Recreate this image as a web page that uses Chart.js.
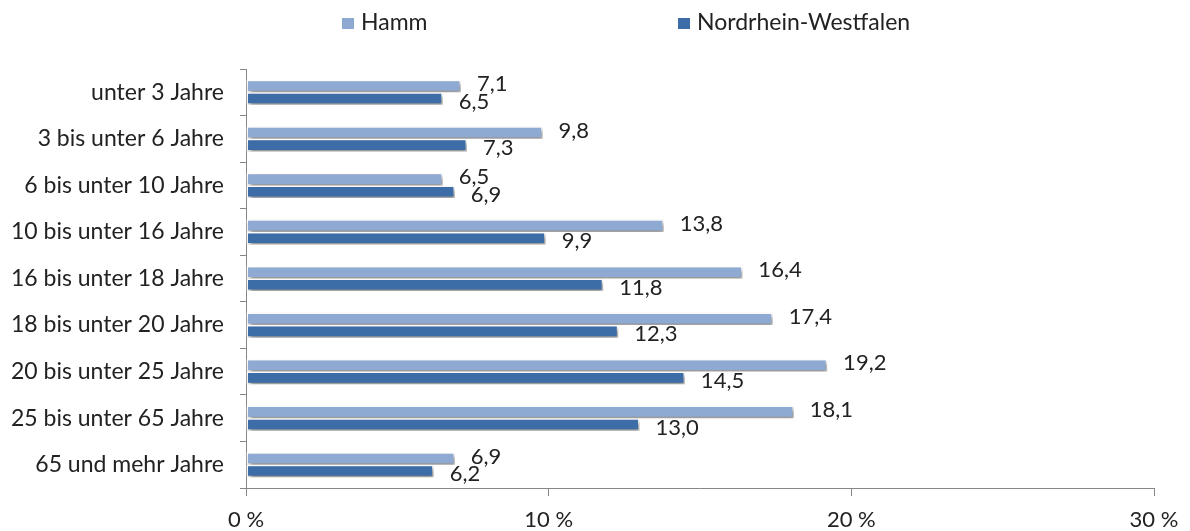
<!DOCTYPE html>
<html>
<head>
<meta charset="utf-8">
<script src="https://cdn.jsdelivr.net/npm/chart.js@4.4.0/dist/chart.umd.min.js"></script>
<style>
html,body{margin:0;padding:0;background:#fff;}
#wrap{width:1190px;height:531px;position:relative;}
</style>
</head>
<body>
<div id="wrap"><canvas id="c" width="1190" height="531"></canvas></div>
<script>
const categories = ["unter 3 Jahre","3 bis unter 6 Jahre","6 bis unter 10 Jahre","10 bis unter 16 Jahre","16 bis unter 18 Jahre","18 bis unter 20 Jahre","20 bis unter 25 Jahre","25 bis unter 65 Jahre","65 und mehr Jahre"];
const seriesNames = ["Hamm","Nordrhein-Westfalen"];
const hammValues = [7.1, 9.8, 6.5, 13.8, 16.4, 17.4, 19.2, 18.1, 6.9];
const nrwValues  = [6.5, 7.3, 6.9, 9.9, 11.8, 12.3, 14.5, 13.0, 6.2];
const xTicks = [0, 10, 20, 30];

const FONT = "Lato";
const colors = ["#8EA9D2", "#3D6DA7"];

const shadowPlugin = {
  id: 'shadow',
  beforeDatasetsDraw(chart) {
    const ctx = chart.ctx;
    ctx.save();
    ctx.shadowColor = 'rgba(0,0,0,0.45)';
    ctx.shadowBlur = 4;
    ctx.shadowOffsetX = 2;
    ctx.shadowOffsetY = 3;
  },
  afterDatasetsDraw(chart) {
    chart.ctx.restore();
  }
};

const labelPlugin = {
  id: 'valueLabels',
  afterDatasetsDraw(chart) {
    const ctx = chart.ctx;
    ctx.save();
    ctx.font = "22px " + FONT;
    ctx.fillStyle = "#222";
    ctx.textAlign = "left";
    ctx.textBaseline = "middle";
    chart.data.datasets.forEach((ds, i) => {
      const meta = chart.getDatasetMeta(i);
      meta.data.forEach((el, j) => {
        const txt = ds.data[j].toFixed(1).replace('.', ',');
        const dy = i === 0 ? -2 : 3;
        ctx.fillText(txt, el.x + 16, el.y + dy);
      });
    });
    ctx.restore();
  }
};

const legendPlugin = {
  id: 'customLegend',
  afterDraw(chart) {
    const ctx = chart.ctx;
    ctx.save();
    ctx.font = "23px " + FONT;
    ctx.textBaseline = "middle";
    const items = [{x: 342}, {x: 678}];
    items.forEach((it, i) => {
      ctx.fillStyle = colors[i];
      ctx.fillRect(it.x, 18, 12, 11);
      ctx.fillStyle = "#222";
      ctx.fillText(seriesNames[i], it.x + 19, 23);
    });
    ctx.restore();
  }
};

new Chart(document.getElementById('c'), {
  type: 'bar',
  data: {
    labels: categories,
    datasets: [
      { label: seriesNames[0], data: hammValues, backgroundColor: colors[0], borderColor: '#fff', borderWidth: 1.5, borderSkipped: false, categoryPercentage: 0.54, barPercentage: 1.0 },
      { label: seriesNames[1], data: nrwValues, backgroundColor: colors[1], borderColor: '#fff', borderWidth: 1.5, borderSkipped: false, categoryPercentage: 0.54, barPercentage: 1.0 }
    ]
  },
  options: {
    indexAxis: 'y',
    responsive: false,
    animation: false,
    layout: { padding: { top: 69, right: 36, left: 0, bottom: 0 } },
    plugins: { legend: { display: false }, tooltip: { enabled: false } },
    scales: {
      x: {
        min: 0, max: 30,
        afterBuildTicks(scale) { scale.ticks = xTicks.map(v => ({ value: v })); },
        afterFit(scale) { scale.height = 43; },
        grid: { drawOnChartArea: false, drawTicks: true, tickLength: 8, color: '#868686' },
        border: { display: true, color: '#868686', width: 1 },
        ticks: { padding: 11, color: '#222', font: { family: FONT, size: 22 }, callback: v => v + ' %' }
      },
      y: {
        afterFit(scale) { scale.width = 246; },
        grid: { drawOnChartArea: false, drawTicks: true, tickLength: 6, color: '#868686', offset: true },
        border: { display: true, color: '#868686', width: 1 },
        ticks: { padding: 16, color: '#222', font: { family: FONT, size: 23 } }
      }
    }
  },
  plugins: [shadowPlugin, labelPlugin, legendPlugin]
});
</script>
</body>
</html>
